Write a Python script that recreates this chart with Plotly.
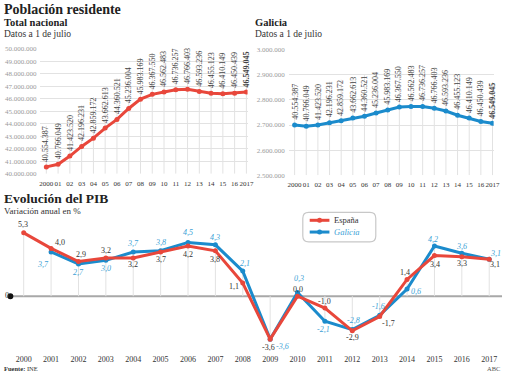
import plotly.graph_objects as go

# ---------------- data ----------------
years = list(range(2000, 2018))
year_ticks_short = ["2000", "01", "02", "03", "04", "05", "06", "07", "08", "09",
                    "10", "11", "12", "13", "14", "15", "16", "2017"]
year_ticks_long = [str(y) for y in years]

pop_espana = [40554387, 40766049, 41423520, 42196231, 42859172, 43662613, 44360521,
              45236004, 45983169, 46367550, 46562483, 46736257, 46766403, 46593236,
              46455123, 46410149, 46450439, 46549045]
pop_galicia = [2700000, 2695000, 2700000, 2709000, 2717000, 2728000, 2735000, 2748000,
               2760000, 2772000, 2774000, 2774000, 2767000, 2756000, 2739000, 2728000,
               2714000, 2707000]
# labels printed on the Galicia panel (as in the original graphic)
labels_galicia = pop_espana

esp_ticks = list(range(40000000, 50000001, 1000000))
gal_ticks = list(range(2500000, 3000001, 100000))

pib_espana = [5.3, 4.0, 2.9, 3.2, 3.2, 3.7, 4.2, 3.8, 1.1, -3.6, 0.0, -1.0, -2.9, -1.7,
              1.4, 3.4, 3.3, 3.1]
pib_galicia = [None, 3.7, 2.7, 3.0, 3.7, 3.8, 4.5, 4.3, 2.1, -3.6, 0.3, -2.1, -2.8, -1.6,
               0.6, 4.2, 3.6, 3.1]

# ---------------- style ----------------
W, H = 510, 376
RED = "#e8473b"
BLUE = "#1b8bcc"
BLUE_TXT = "#3d9fd6"
SERIF = "Liberation Serif"
GRID = "#e2e2e2"

# label offsets (pixels, dx right / dy down) for the PIB value labels
off_esp = [(-1, -8), (9, -6), (3, -7), (0, -7), (0, 7), (0, 8), (0, 8), (0, 9), (-9, 3),
           (-2, 8), (0, -7), (0, -7), (0, 7), (9, 7), (-2, -7), (1, 9), (0, 7), (6, 5)]
off_gal = [(0, 0), (-8, 13), (0, 9), (0, 8), (0, -8), (0, -8), (0, -10), (0, -7), (2, -8),
           (12, 7), (1, -14), (-1, 8), (1, -9), (-1, -9), (9, 2), (-1, -7), (0, -7), (6, -6)]


def fmt_int(v):
    return f"{v:,}".replace(",", ".")


def fmt_dec(v):
    return None if v is None else f"{v:.1f}".replace(".", ",")


def px(x):
    return x / W


def py(y):
    return 1 - y / H


fig = go.Figure()

# panel geometry (pixels)
P1 = dict(x0=40, x1=250, ytop=46, ybot=173.5, r=[40e6, 50e6])
P2 = dict(x0=291.8, x1=499.5, ytop=46.7, ybot=175, r=[2.5e6, 3.0e6])
P3 = dict(ytop=225.3, ybot=351, r=[-4.3, 6.0])
XR_TOP = [1999.5, 2017.1]

# ---------------- top-left: Total nacional ----------------
fig.add_trace(go.Scatter(x=years, y=pop_espana, mode="lines+markers",
                         line=dict(color=RED, width=3), marker=dict(size=5, color=RED),
                         xaxis="x", yaxis="y", hoverinfo="skip"))
# ---------------- top-right: Galicia ----------------
fig.add_trace(go.Scatter(x=years, y=pop_galicia, mode="lines+markers",
                         line=dict(color=BLUE, width=3), marker=dict(size=5, color=BLUE),
                         xaxis="x2", yaxis="y2", hoverinfo="skip"))

shapes = []
annotations = []

GAP = 5         # gap between point and rotated label (px)
LABEL_LEN = 37  # rotated label length (px)


def panel_labels(xs, ys, labels, P, xref, yref):
    unit_per_px = (P["r"][1] - P["r"][0]) / (P["ybot"] - P["ytop"])
    n = len(xs)
    for i, (x, y, lab) in enumerate(zip(xs, ys, labels)):
        shapes.append(dict(type="line", xref=xref, yref=yref, x0=x, x1=x,
                           y0=P["r"][0], y1=y + (GAP + LABEL_LEN) * unit_per_px,
                           line=dict(color=GRID, width=1), layer="below"))
        txt = fmt_int(lab)
        if i == n - 1:
            txt = "<b>" + txt + "</b>"
        annotations.append(dict(x=x, y=y + (GAP + LABEL_LEN / 2) * unit_per_px,
                                xref=xref, yref=yref, text=txt, textangle=-90,
                                showarrow=False, xanchor="center", yanchor="middle",
                                borderpad=0,
                                font=dict(family=SERIF, size=8, color="#444")))


panel_labels(years, pop_espana, pop_espana, P1, "x", "y")
panel_labels(years, pop_galicia, labels_galicia, P2, "x2", "y2")

# ---------------- bottom: PIB ----------------
for x, a, b in zip(years, pib_espana, pib_galicia):
    vals = [v for v in (a, b) if v is not None]
    ext = max(vals) if max(vals) > 0 else min(vals)
    shapes.append(dict(type="line", xref="x3", yref="y3", x0=x, x1=x, y0=0, y1=ext,
                       line=dict(color=GRID, width=1), layer="below"))
shapes.append(dict(type="line", xref="paper", yref="y3", x0=px(9), x1=px(508), y0=0, y1=0,
                   line=dict(color="#a8a8a8", width=2), layer="below"))
shapes.append(dict(type="circle", xref="paper", yref="y3", xsizemode="pixel",
                   ysizemode="pixel", xanchor=px(9.5), yanchor=0, x0=-3, x1=3, y0=-3, y1=3,
                   fillcolor="#111", line=dict(width=0)))
annotations.append(dict(x=px(2), y=0, xref="paper", yref="y3", text="0", showarrow=False,
                        xanchor="left", yanchor="middle", yshift=1,
                        font=dict(family=SERIF, size=8, color="#333")))

fig.add_trace(go.Scatter(x=years, y=pib_galicia, mode="lines+markers",
                         line=dict(color=BLUE, width=3), marker=dict(size=5, color=BLUE),
                         xaxis="x3", yaxis="y3", hoverinfo="skip"))
fig.add_trace(go.Scatter(x=years, y=pib_espana, mode="lines+markers",
                         line=dict(color=RED, width=3), marker=dict(size=5, color=RED),
                         xaxis="x3", yaxis="y3", hoverinfo="skip"))

for x, v, (dx, dy) in zip(years, pib_galicia, off_gal):
    if v is None:
        continue
    annotations.append(dict(x=x, y=v, xref="x3", yref="y3", text="<i>" + fmt_dec(v) + "</i>",
                            showarrow=False, xanchor="center", yanchor="middle",
                            xshift=dx, yshift=-dy, borderpad=0,
                            font=dict(family=SERIF, size=8, color=BLUE_TXT)))
for x, v, (dx, dy) in zip(years, pib_espana, off_esp):
    annotations.append(dict(x=x, y=v, xref="x3", yref="y3", text=fmt_dec(v),
                            showarrow=False, xanchor="center", yanchor="middle",
                            xshift=dx, yshift=-dy, borderpad=0,
                            font=dict(family=SERIF, size=8, color="#333")))

# manual legend
shapes.append(dict(type="path", xref="paper", yref="paper",
                   path=(f"M {px(312)} {py(213)} L {px(374)} {py(213)} "
                         f"Q {px(380)} {py(213)} {px(380)} {py(219)} L {px(380)} {py(237)} "
                         f"Q {px(380)} {py(243)} {px(374)} {py(243)} L {px(312)} {py(243)} "
                         f"Q {px(306)} {py(243)} {px(306)} {py(237)} L {px(306)} {py(219)} "
                         f"Q {px(306)} {py(213)} {px(312)} {py(213)} Z"),
                   line=dict(color="#c8c8c8", width=1.2), fillcolor="white"))
for yy, col, name, fnt in [(221, RED, "España", dict(color="#333")),
                           (233, BLUE, "<i>Galicia</i>", dict(color=BLUE_TXT))]:
    shapes.append(dict(type="line", xref="paper", yref="paper", x0=px(313), x1=px(333),
                       y0=py(yy), y1=py(yy), line=dict(color=col, width=3)))
    shapes.append(dict(type="circle", xref="paper", yref="paper", xsizemode="pixel",
                       ysizemode="pixel", xanchor=px(323), yanchor=py(yy),
                       x0=-2.5, x1=2.5, y0=-2.5, y1=2.5, fillcolor=col, line=dict(width=0)))
    annotations.append(dict(x=px(336), y=py(yy), xref="paper", yref="paper", text=name,
                            showarrow=False, xanchor="left", yanchor="middle",
                            font=dict(family=SERIF, size=8.5, **fnt)))


# ---------------- titles ----------------
def title(text, x, y, size, color="#222", xanchor="left"):
    annotations.append(dict(x=px(x), y=py(y), xref="paper", yref="paper", text=text,
                            showarrow=False, xanchor=xanchor, yanchor="middle",
                            font=dict(family=SERIF, size=size, color=color)))


title("<b>Población residente</b>", 1, 6, 14)
title("<b>Total nacional</b>", 1, 19, 10.5)
title("Datos a 1 de julio", 1, 31, 9.5, "#333")
title("<b>Galicia</b>", 255, 19, 10.5)
title("Datos a 1 de julio", 255, 31, 9.5, "#333")
title("<b>Evolución del PIB</b>", 1, 199, 13.5)
title("Variación anual en %", 1, 211, 9, "#333")
title("<b>Fuente:</b> INE", 1, 372.5, 6.5, "#333")
title("ABC", 508, 372.5, 6.5, "#555", xanchor="right")

tickfont_y = dict(family=SERIF, size=7, color="#9a9a9a")
tickfont_x = dict(family=SERIF, size=7, color="#333333")

fig.update_layout(
    width=W, height=H, margin=dict(l=0, r=0, t=0, b=0, pad=0), autosize=False,
    paper_bgcolor="white", plot_bgcolor="rgba(0,0,0,0)", showlegend=False,
    shapes=shapes, annotations=annotations,
    xaxis=dict(domain=[px(P1["x0"]), px(P1["x1"])], range=XR_TOP, tickvals=years,
               ticktext=year_ticks_short, showgrid=False, zeroline=False, showline=False,
               tickfont=tickfont_x, ticks="", tickangle=0, ticklabelstandoff=4,
               fixedrange=True),
    yaxis=dict(domain=[py(P1["ybot"]), py(P1["ytop"])], range=P1["r"], tickvals=esp_ticks,
               ticktext=[fmt_int(v) for v in esp_ticks], showgrid=True, gridcolor=GRID,
               zeroline=False, tickfont=tickfont_y, ticks="", ticklabelstandoff=3,
               fixedrange=True),
    xaxis2=dict(domain=[px(P2["x0"]), px(P2["x1"])], range=XR_TOP, tickvals=years,
                ticktext=year_ticks_short, showgrid=False, zeroline=False,
                tickfont=tickfont_x, ticks="", tickangle=0, ticklabelstandoff=4,
                anchor="y2", fixedrange=True),
    yaxis2=dict(domain=[py(P2["ybot"]), py(P2["ytop"])], range=P2["r"], tickvals=gal_ticks,
                ticktext=[fmt_int(v) for v in gal_ticks], showgrid=True, gridcolor=GRID,
                zeroline=False, tickfont=tickfont_y, ticks="", ticklabelstandoff=3,
                anchor="x2", fixedrange=True),
    xaxis3=dict(domain=[0, 1], range=[1999.171, 2017.54], tickvals=years,
                ticktext=year_ticks_long, showgrid=False, zeroline=False,
                tickfont=dict(family=SERIF, size=8, color="#333333"), ticks="",
                tickangle=0, ticklabelstandoff=5, anchor="y3", fixedrange=True),
    yaxis3=dict(domain=[py(P3["ybot"]), py(P3["ytop"])], range=P3["r"], visible=False,
                anchor="x3", fixedrange=True),
)

fig.write_html("out.html", config={"displayModeBar": False},
               post_script="document.body.style.margin='0';document.body.style.padding='0';")
